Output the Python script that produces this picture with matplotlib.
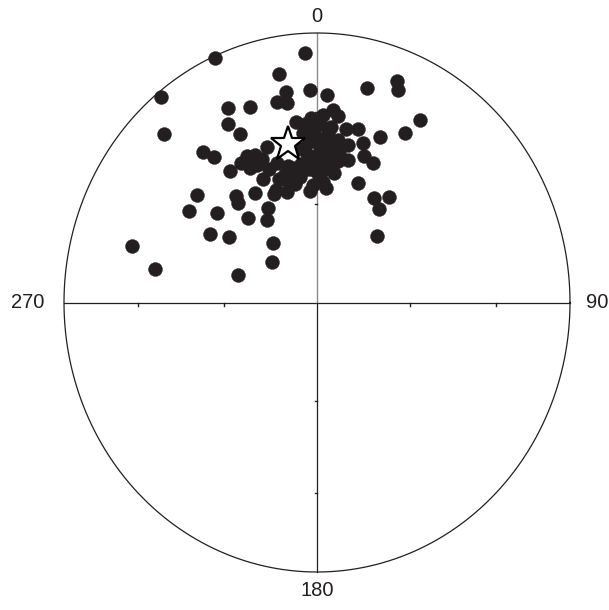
import numpy as np
import matplotlib
matplotlib.use("Agg")
import matplotlib.pyplot as plt

# Lineation data: trend (deg, azimuth) and plunge (deg)
trend = [336, 321, 316, 357, 350, 334, 332, 340, 351, 348,
         351, 358, 3, 14, 21, 22, 31, 29, 22, 17,
         10, 14, 12, 5, 7, 334, 321, 323, 353, 358,
         1, 355, 359, 2, 6, 9, 13, 9, 19, 23,
         358, 4, 5, 1, 355, 353, 357, 341, 325, 330,
         333, 336, 335, 339, 343, 347, 345, 350, 339, 321,
         320, 329, 337, 331, 327, 319, 305, 322, 310, 310,
         304, 310, 301, 286, 281, 288, 1, 358, 356, 5,
         20, 30, 36, 35, 44, 352, 359, 4, 8,
         356, 359, 4, 8, 5, 1, 356, 352, 354, 0,
         6, 3, 349, 342, 338, 332, 335, 345, 349, 357,
         3, 344, 2]
plunge = [1, 2, 14, 8, 15, 21, 26, 24, 22, 25,
          26, 22, 24, 19, 13, 16, 22, 29, 34, 38,
          35, 34, 40, 29, 31, 31, 29, 33, 33, 32,
          34, 37, 38, 39, 40, 43, 45, 46, 42, 43,
          45, 45, 35, 42, 42, 47, 49, 39, 40, 40,
          39, 40, 48, 46, 45, 47, 51, 51, 53, 48,
          50, 51, 54, 57, 60, 56, 55, 67, 71, 38,
          39, 47, 49, 25, 35, 63, 51, 54, 56, 55,
          51, 53, 50, 55, 62, 51, 48, 49, 50,
          34, 36, 37, 39, 43, 46, 44, 42, 49, 50,
          47, 53, 53, 50, 42, 43, 43, 49, 48, 40,
          42, 55, 31]

# Mean direction (star)
mean_trend = [349]
mean_plunge = [40]

# Cardinal labels
cardinal_labels = ["0", "90", "180", "270"]
# Reference dips for axis tick marks
tick_plunges = [60, 30]


def project(tr, pl):
    """Lower-hemisphere equal-area (Schmidt) projection."""
    tr = np.radians(np.asarray(tr, dtype=float))
    pl = np.radians(np.asarray(pl, dtype=float))
    r = np.sqrt(2.0) * np.sin((np.pi / 2 - pl) / 2.0)
    return r * np.sin(tr), r * np.cos(tr)


W, H = 609, 610
fig = plt.figure(figsize=(W / 100, H / 100), dpi=100)
# circle: centre x=317, y=302.5 (from top), rx=253, ry=269.5 px
ax = fig.add_axes([64 / W, 38 / H, 506 / W, 539 / H])
ax.set_xlim(-1, 1)
ax.set_ylim(-1, 1)
ax.axis("off")

ink = "#231f20"

# primitive circle
t = np.linspace(0, 2 * np.pi, 721)
ax.plot(np.cos(t), np.sin(t), color=ink, lw=0.9, zorder=2, clip_on=False)
# cross hairs
ax.plot([-1, 1], [0, 0], color=ink, lw=0.9, zorder=1, clip_on=False)
ax.plot([0, 0], [0, 1], color="#8a8a8a", lw=1.0, zorder=1, clip_on=False)
ax.plot([0, 0], [-1, 0], color=ink, lw=0.9, zorder=1, clip_on=False)

# tick marks at 60 and 30 degree plunge along the axes
for p in tick_plunges:
    for az in (90, 270):
        x, y = project(az, p)
        ax.plot([x, x], [y, y - 0.012], color=ink, lw=1.0, zorder=1)
    for az in (0, 180):
        x, y = project(az, p)
        ax.plot([x - 0.008, x], [y, y], color=ink, lw=1.0, zorder=1)

# data points
px, py = project(trend, plunge)
ax.plot(px, py, "o", ms=10, color=ink, mec=ink, mew=0.3, zorder=3,
        clip_on=False)

# mean vector star
mx, my = project(mean_trend, mean_plunge)
ax.plot(mx, my, "*", ms=26, mfc="white", mec="black", mew=1.6, zorder=4)

fontkw = dict(family=["Liberation Sans", "DejaVu Sans"], fontsize=14.5,
              color="#231f20")
fig.text(317 / W, 1 - 16 / H, cardinal_labels[0], ha="center", va="center", **fontkw)
fig.text(597 / W, 1 - 302.5 / H, cardinal_labels[1], ha="center", va="center", **fontkw)
fig.text(317 / W, 1 - 591 / H, cardinal_labels[2], ha="center", va="center", **fontkw)
fig.text(28 / W, 1 - 302.5 / H, cardinal_labels[3], ha="center", va="center", **fontkw)

fig.savefig("out.png", dpi=100, facecolor="white")
